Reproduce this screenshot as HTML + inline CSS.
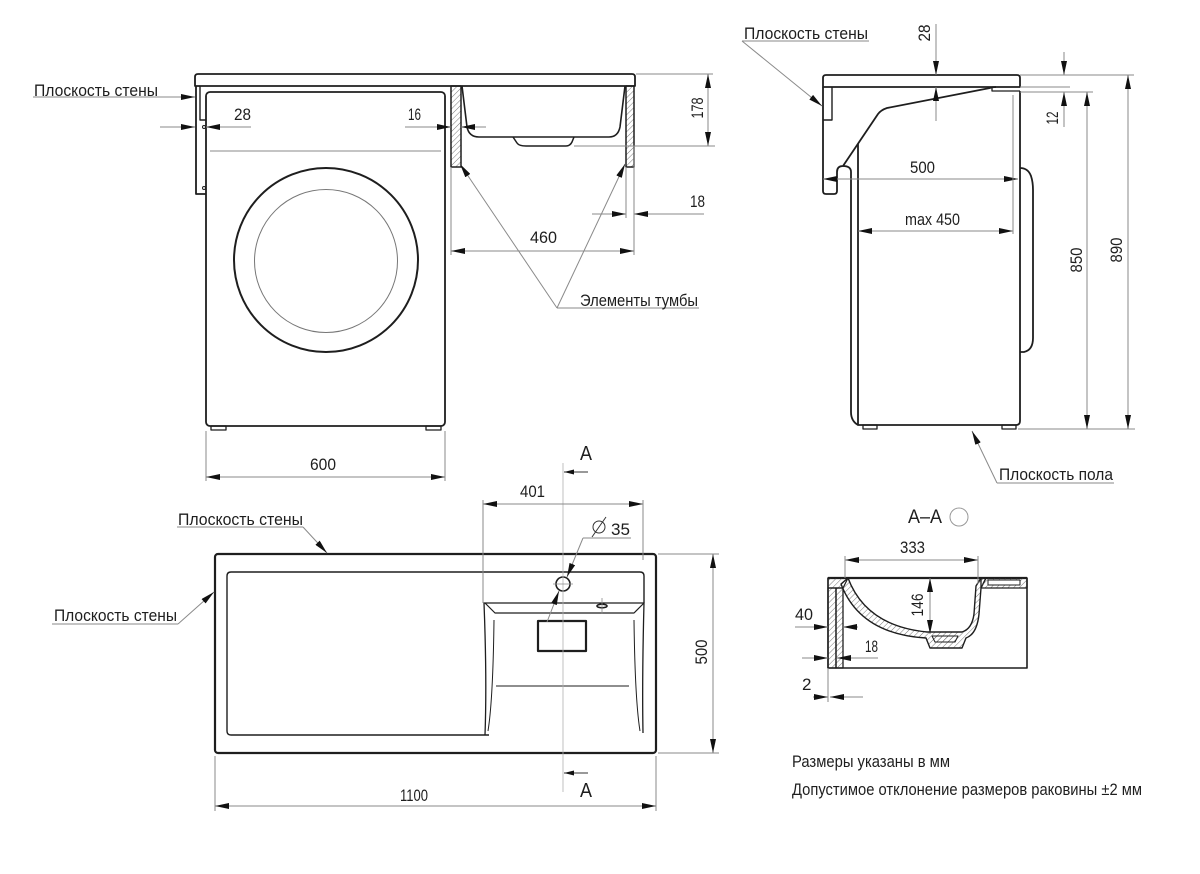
<!DOCTYPE html>
<html><head><meta charset="utf-8"><style>html,body{margin:0;padding:0;background:#fff}svg{display:block}</style></head>
<body>
<svg width="1200" height="874" viewBox="0 0 1200 874" xmlns="http://www.w3.org/2000/svg">
<defs>
<marker id="a" viewBox="0 0 14 6" refX="14" refY="3" markerWidth="14" markerHeight="6" markerUnits="userSpaceOnUse" orient="auto-start-reverse"><path d="M0,0L14,3L0,6z" fill="#111"/></marker>
<marker id="s" viewBox="0 0 10 5" refX="10" refY="2.5" markerWidth="10" markerHeight="5" markerUnits="userSpaceOnUse" orient="auto-start-reverse"><path d="M0,0L10,2.5L0,5z" fill="#111"/></marker>
<pattern id="h" width="4" height="4" patternUnits="userSpaceOnUse" patternTransform="rotate(45)"><line x1="0" y1="0" x2="0" y2="4" stroke="#555" stroke-width="0.8"/></pattern>
</defs>
<rect width="1200" height="874" fill="#fff"/>

<!-- ============ OUTLINES ============ -->
<g fill="none" stroke="#1e1e1e" stroke-width="1.8" stroke-linejoin="round">
<!-- front view -->
<path d="M195,86 V77 Q195,74 198,74 H632 Q635,74 635,77 V86 Z"/>
<path d="M196,86 V194 H206"/>
<path d="M200,86 V120 H206" stroke-width="1.4"/>
<circle cx="204" cy="127" r="1.5" stroke-width="1"/>
<circle cx="204" cy="188" r="1.5" stroke-width="1"/>
<rect x="206" y="92" width="239" height="334" rx="4"/>
<line x1="210" y1="151" x2="441" y2="151" stroke="#888" stroke-width="1"/>
<circle cx="326" cy="260" r="92" stroke-width="2"/>
<circle cx="326" cy="261" r="71.5" stroke="#777" stroke-width="1"/>
<rect x="211" y="426" width="15" height="4" stroke-width="1.3"/>
<rect x="426" y="426" width="15" height="4" stroke-width="1.3"/>
<rect x="451" y="86" width="10" height="81" fill="url(#h)" stroke-width="1.5"/>
<rect x="626" y="86" width="8" height="81" fill="url(#h)" stroke-width="1.5"/>
<path d="M462,86 L467,127 Q469,137 479,137 H609 Q618,137 620,127 L625,86" stroke-width="1.6"/>
<path d="M513,137 L517,143 Q519,146 526,146 H566 Q570,146 572,142 L574,137" stroke-width="1.5"/>

<!-- side view -->
<path d="M823,87 V78 Q823,75 826,75 H1017 Q1020,75 1020,78 V87 Z"/>
<path d="M823,87 V191 Q823,194 826,194 H834 Q837,194 837,191 V172 Q837,166 843,166 L878,114 Q881,110 887,108 L990,88 Q992,87 996,87"/>
<path d="M832,87 V120 H823" stroke-width="1.4"/>
<path d="M843,166 Q851,166 851,172 V412 Q851,421 858,425"/>
<path d="M858,144 V425 H1016 Q1020,425 1020,421 V91"/>
<path d="M992,87 V91 H1020" stroke-width="1.3"/>
<path d="M1020,168 Q1028,168 1031,176 Q1033,182 1033,190 V338 Q1033,350 1024,352 H1020"/>
<rect x="863" y="425" width="14" height="4" stroke-width="1.3"/>
<rect x="1002" y="425" width="14" height="4" stroke-width="1.3"/>

<!-- plan view -->
<rect x="215" y="554" width="441" height="199" rx="3" stroke-width="2.2"/>
<path d="M489,735 H231 Q227,735 227,731 V576 Q227,572 231,572 H640 Q644,572 644,576 V603" stroke-width="1.4"/>
<path d="M485,735 Q487,680 484,603 H644 Q642,680 643,733" stroke-width="1.3"/>
<path d="M485,603 L495,613 H634 L644,603" stroke-width="1.2"/>
<path d="M494,620 Q493,700 488,731" stroke-width="1"/>
<path d="M634,620 Q635,700 640,731" stroke-width="1"/>
<line x1="496" y1="686" x2="629" y2="686" stroke-width="1"/>
<rect x="538" y="621" width="48" height="30" stroke-width="2.2"/>
<circle cx="563" cy="584" r="7" stroke-width="1.6"/>
<ellipse cx="602" cy="606" rx="5" ry="1.8" stroke-width="1.6"/>

<!-- section A-A -->
<path d="M828,668 V578 H1027 V668 Z" stroke-width="1.6"/>
<line x1="828" y1="578" x2="1027" y2="578" stroke-width="2.2"/>
<rect x="828" y="588" width="8" height="80" fill="url(#h)" stroke-width="1.3"/>
<rect x="836" y="588" width="7" height="80" fill="url(#h)" stroke-width="1.3"/>
<path d="M828,578 H848 Q845,584 843,588 H828 Z" fill="url(#h)" stroke-width="1.2"/>
<path d="M848,578 Q866,626 927,632 H962 Q972,629 974,614 L976,586 L981,578 H986 L981,588 L979,614 Q977,634 966,638 L962,648 H930 L926,638 Q860,634 841,584 Z" fill="url(#h)" stroke-width="1.4"/>
<rect x="981" y="578" width="46" height="10" fill="url(#h)" stroke-width="1.3"/>
<rect x="988" y="580" width="32" height="5" fill="#fff" stroke-width="1"/>
<path d="M932,636 H958 L955,642 H935 Z" fill="url(#h)" stroke-width="1"/>
</g>

<!-- ============ DIMENSIONS ============ -->
<g fill="none" stroke="#8a8a8a" stroke-width="1">
<!-- front -->
<line x1="206" y1="431" x2="206" y2="481"/>
<line x1="445" y1="431" x2="445" y2="481"/>
<line x1="206" y1="477" x2="445" y2="477" marker-start="url(#a)" marker-end="url(#a)"/>
<line x1="33" y1="97" x2="195" y2="97" marker-end="url(#a)"/>
<line x1="160" y1="127" x2="195" y2="127" marker-end="url(#a)"/>
<line x1="251" y1="127" x2="206" y2="127" marker-end="url(#a)"/>
<line x1="405" y1="127" x2="451" y2="127" marker-end="url(#a)"/>
<line x1="486" y1="127" x2="461" y2="127" marker-end="url(#a)"/>
<line x1="592" y1="214" x2="626" y2="214" marker-end="url(#a)"/>
<line x1="704" y1="214" x2="634" y2="214" marker-end="url(#a)"/>
<line x1="626" y1="167" x2="626" y2="218"/>
<line x1="634" y1="146" x2="634" y2="255"/>
<line x1="451" y1="167" x2="451" y2="255"/>
<line x1="451" y1="251" x2="634" y2="251" marker-start="url(#a)" marker-end="url(#a)"/>
<line x1="636" y1="74" x2="713" y2="74"/>
<line x1="574" y1="146" x2="715" y2="146"/>
<line x1="708" y1="74" x2="708" y2="146" marker-start="url(#a)" marker-end="url(#a)"/>
<line x1="557" y1="308" x2="460" y2="164" marker-end="url(#a)"/>
<line x1="557" y1="308" x2="625" y2="164" marker-end="url(#a)"/>
<line x1="557" y1="308" x2="699" y2="308"/>

<!-- side -->
<line x1="823" y1="179" x2="1018" y2="179" marker-start="url(#a)" marker-end="url(#a)"/>
<line x1="858" y1="231" x2="1013" y2="231" marker-start="url(#a)" marker-end="url(#a)"/>
<line x1="1013" y1="95" x2="1013" y2="234"/>
<line x1="936" y1="24" x2="936" y2="75" marker-end="url(#a)"/>
<line x1="936" y1="121" x2="936" y2="87" marker-end="url(#a)"/>
<line x1="1064" y1="52" x2="1064" y2="75" marker-end="url(#a)"/>
<line x1="1064" y1="127" x2="1064" y2="92" marker-end="url(#a)"/>
<line x1="1020" y1="75" x2="1134" y2="75"/>
<line x1="1020" y1="87" x2="1070" y2="87"/>
<line x1="1020" y1="92" x2="1093" y2="92"/>
<line x1="1018" y1="429" x2="1135" y2="429"/>
<line x1="1087" y1="92" x2="1087" y2="429" marker-start="url(#a)" marker-end="url(#a)"/>
<line x1="1128" y1="75" x2="1128" y2="429" marker-start="url(#a)" marker-end="url(#a)"/>
<line x1="997" y1="483" x2="972" y2="431" marker-end="url(#a)"/>
<line x1="997" y1="483" x2="1114" y2="483"/>
<line x1="742" y1="41" x2="869" y2="41"/>
<line x1="742" y1="41" x2="822" y2="106" marker-end="url(#a)"/>

<!-- plan -->
<line x1="563" y1="463" x2="563" y2="792" stroke="#b0b0b0" stroke-width="0.8"/>
<line x1="553" y1="584" x2="573" y2="584" stroke-width="0.8"/>
<line x1="602" y1="598" x2="602" y2="614" stroke-width="0.8"/>
<line x1="588" y1="472" x2="564" y2="472" marker-end="url(#s)" stroke="#333"/>
<line x1="588" y1="773" x2="564" y2="773" marker-end="url(#s)" stroke="#333"/>
<line x1="483" y1="504" x2="643" y2="504" marker-start="url(#a)" marker-end="url(#a)"/>
<line x1="483" y1="500" x2="483" y2="603"/>
<line x1="643" y1="500" x2="643" y2="560"/>
<circle cx="599" cy="527" r="6" stroke="#333" stroke-width="1"/>
<line x1="592" y1="537" x2="606" y2="517" stroke="#333"/>
<line x1="583" y1="538" x2="631" y2="538"/>
<line x1="583" y1="538" x2="567" y2="577" marker-end="url(#a)"/>
<line x1="547" y1="622" x2="559" y2="591" marker-end="url(#a)"/>
<line x1="215" y1="756" x2="215" y2="811"/>
<line x1="656" y1="756" x2="656" y2="811"/>
<line x1="215" y1="806" x2="656" y2="806" marker-start="url(#a)" marker-end="url(#a)"/>
<line x1="658" y1="554" x2="719" y2="554"/>
<line x1="658" y1="753" x2="719" y2="753"/>
<line x1="713" y1="554" x2="713" y2="753" marker-start="url(#a)" marker-end="url(#a)"/>
<line x1="177" y1="527" x2="303" y2="527"/>
<line x1="303" y1="527" x2="327" y2="553" marker-end="url(#a)"/>
<line x1="52" y1="624" x2="178" y2="624"/>
<line x1="178" y1="624" x2="214" y2="592" marker-end="url(#a)"/>

<!-- section -->
<circle cx="959" cy="517" r="9" stroke="#999"/>
<line x1="845" y1="560" x2="978" y2="560" marker-start="url(#a)" marker-end="url(#a)"/>
<line x1="845" y1="556" x2="845" y2="578"/>
<line x1="978" y1="556" x2="978" y2="584"/>
<line x1="930" y1="578" x2="930" y2="634" marker-start="url(#a)" marker-end="url(#a)"/>
<line x1="795" y1="627" x2="828" y2="627" marker-end="url(#a)"/>
<line x1="858" y1="627" x2="843" y2="627" marker-end="url(#a)"/>
<line x1="802" y1="658" x2="828" y2="658" marker-end="url(#a)"/>
<line x1="878" y1="658" x2="837" y2="658" marker-end="url(#a)"/>
<line x1="813" y1="697" x2="828" y2="697" marker-end="url(#a)"/>
<line x1="863" y1="697" x2="830" y2="697" marker-end="url(#a)"/>
<line x1="828" y1="668" x2="828" y2="702"/>
</g>

<!-- ============ TEXT ============ -->
<g font-family="'Liberation Sans', sans-serif" fill="#1e1e1e" font-size="17" lengthAdjust="spacingAndGlyphs">
<text x="34" y="96" textLength="124" lengthAdjust="spacingAndGlyphs">Плоскость стены</text>
<text x="234" y="120" textLength="17" lengthAdjust="spacingAndGlyphs">28</text>
<text x="408" y="120" textLength="13" lengthAdjust="spacingAndGlyphs">16</text>
<text x="310" y="470" textLength="26" lengthAdjust="spacingAndGlyphs">600</text>
<text x="530" y="243" textLength="27" lengthAdjust="spacingAndGlyphs">460</text>
<text x="690" y="207" textLength="15" lengthAdjust="spacingAndGlyphs">18</text>
<text transform="translate(703,108) rotate(-90)" text-anchor="middle" textLength="21" lengthAdjust="spacingAndGlyphs">178</text>
<text x="580" y="306" textLength="118" lengthAdjust="spacingAndGlyphs">Элементы тумбы</text>

<text x="744" y="39" textLength="124" lengthAdjust="spacingAndGlyphs">Плоскость стены</text>
<text transform="translate(930,33) rotate(-90)" text-anchor="middle" textLength="17" lengthAdjust="spacingAndGlyphs">28</text>
<text transform="translate(1058,118) rotate(-90)" text-anchor="middle" textLength="13" lengthAdjust="spacingAndGlyphs">12</text>
<text x="910" y="173" textLength="25" lengthAdjust="spacingAndGlyphs">500</text>
<text x="905" y="225" textLength="55" lengthAdjust="spacingAndGlyphs">max 450</text>
<text transform="translate(1082,260) rotate(-90)" text-anchor="middle" textLength="25" lengthAdjust="spacingAndGlyphs">850</text>
<text transform="translate(1122,250) rotate(-90)" text-anchor="middle" textLength="25" lengthAdjust="spacingAndGlyphs">890</text>
<text x="999" y="480" textLength="114" lengthAdjust="spacingAndGlyphs">Плоскость пола</text>

<text x="580" y="460" font-size="20" textLength="12" lengthAdjust="spacingAndGlyphs">A</text>
<text x="580" y="797" font-size="20" textLength="12" lengthAdjust="spacingAndGlyphs">A</text>
<text x="520" y="497" textLength="25" lengthAdjust="spacingAndGlyphs">401</text>
<text x="611" y="535" textLength="19" lengthAdjust="spacingAndGlyphs">35</text>
<text x="178" y="525" textLength="125" lengthAdjust="spacingAndGlyphs">Плоскость стены</text>
<text x="54" y="621" textLength="123" lengthAdjust="spacingAndGlyphs">Плоскость стены</text>
<text x="400" y="801" textLength="28" lengthAdjust="spacingAndGlyphs">1100</text>
<text transform="translate(707,652) rotate(-90)" text-anchor="middle" textLength="25" lengthAdjust="spacingAndGlyphs">500</text>

<text x="908" y="523" font-size="19" textLength="34" lengthAdjust="spacingAndGlyphs">A–A</text>
<text x="900" y="553" textLength="25" lengthAdjust="spacingAndGlyphs">333</text>
<text transform="translate(923,605) rotate(-90)" text-anchor="middle" textLength="23" lengthAdjust="spacingAndGlyphs">146</text>
<text x="795" y="620" textLength="18" lengthAdjust="spacingAndGlyphs">40</text>
<text x="865" y="652" textLength="13" lengthAdjust="spacingAndGlyphs">18</text>
<text x="802" y="690">2</text>

<text x="792" y="767" textLength="158" lengthAdjust="spacingAndGlyphs">Размеры указаны в мм</text>
<text x="792" y="795" textLength="350" lengthAdjust="spacingAndGlyphs">Допустимое отклонение размеров раковины ±2 мм</text>
</g>
</svg>
</body></html>
